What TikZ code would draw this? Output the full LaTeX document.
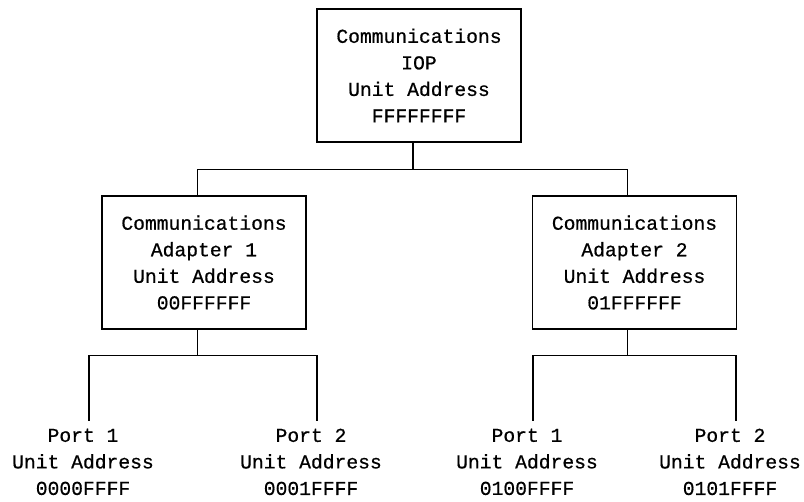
\documentclass[tikz,border=0pt]{standalone}
\usepackage{fontspec}
\setmonofont[FakeBold=0.6]{Liberation Mono}
\begin{document}
\begin{tikzpicture}[x=0.75pt,y=-0.75pt,
  txt/.style={font=\ttfamily\fontsize{14.75}{19.9}\selectfont, align=center},
  box/.style={txt, draw, line width=0.9pt, minimum width=153pt, minimum height=99.75pt, inner sep=0pt},
  port/.style={txt, anchor=north, inner ysep=5.6pt},
  conn/.style={line width=0.9pt}]
\useasboundingbox (0,0) rectangle (804,502);
\node[box] (top) at (419,75.5) {Communications\\IOP\\Unit Address\\FFFFFFFF};
\node[box] (a1) at (204,262.5) {Communications\\Adapter 1\\Unit Address\\00FFFFFF};
\node[box] (a2) at (634.5,262.5) {Communications\\Adapter 2\\Unit Address\\01FFFFFF};
\node[port] (p11) at (83,421) {Port 1\\Unit Address\\0000FFFF};
\node[port] (p12) at (311,421) {Port 2\\Unit Address\\0001FFFF};
\node[port] (p21) at (527,421) {Port 1\\Unit Address\\0100FFFF};
\node[port] (p22) at (730,421) {Port 2\\Unit Address\\0101FFFF};
\draw[conn] ([xshift=-4.5pt]top.south) -- ++(0,27) coordinate (tj);
\draw[conn] ([xshift=-5pt]a1.north) |- (tj) -| ([xshift=-5pt]a2.north);
\draw[conn] ([xshift=-5pt]a1.south) -- ++(0,26) coordinate (aj1);
\draw[conn] ([xshift=4.5pt]p11.north) |- (aj1) -| ([xshift=4.5pt]p12.north);
\draw[conn] ([xshift=-5pt]a2.south) -- ++(0,26) coordinate (aj2);
\draw[conn] ([xshift=4.5pt]p21.north) |- (aj2) -| ([xshift=4.5pt]p22.north);
\end{tikzpicture}
\end{document}
